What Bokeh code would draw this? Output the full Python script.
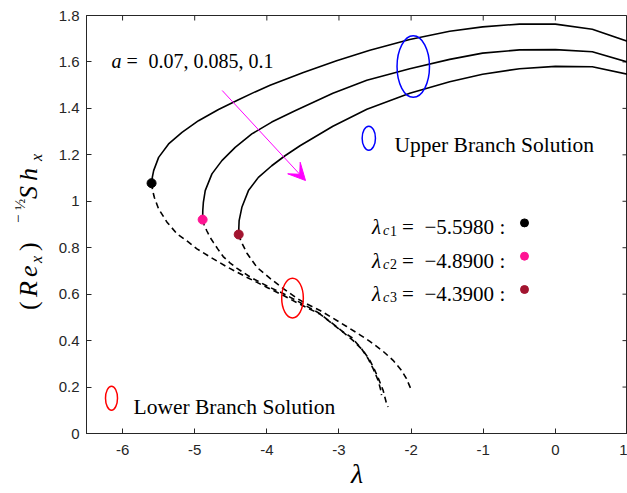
from bokeh.plotting import figure
from bokeh.models import Label, Arrow, VeeHead, FixedTicker, Range1d, Div
from bokeh.layouts import row
from bokeh.embed import file_html
from bokeh.resources import INLINE

# ---------------- data ----------------
a_labels = ["0.07", "0.085", "0.1"]
lambda_c = [-5.5980, -4.8900, -4.3900]
lambda_c_text = ["\u22125.5980", "\u22124.8900", "\u22124.3900"]
f_c = [1.078, 0.921, 0.857]
dot_colors = ["#000000", "#FF1493", "#A2142F"]

# upper branch (solid)
up1_x = [-5.598, -5.587, -5.569, -5.500, -5.362, -5.176, -4.947, -4.670, -4.393, -4.163,
         -3.955, -3.494, -3.033, -2.572, -2.019, -1.465, -1.009, -0.497, 0.0, 0.512, 1.0]
up1_y = [1.078, 1.104, 1.132, 1.189, 1.247, 1.297, 1.347, 1.395, 1.437, 1.471,
         1.500, 1.555, 1.605, 1.650, 1.697, 1.732, 1.751, 1.763, 1.763, 1.741, 1.689]
up2_x = [-4.890, -4.888, -4.880, -4.854, -4.761, -4.623, -4.439, -4.208, -3.932, -3.609,
         -3.084, -2.614, -2.019, -1.465, -1.009, -0.497, 0.0, 0.512, 1.0]
up2_y = [0.921, 0.960, 0.995, 1.046, 1.118, 1.175, 1.232, 1.290, 1.341, 1.390,
         1.465, 1.521, 1.571, 1.611, 1.638, 1.652, 1.653, 1.644, 1.600]
up3_x = [-4.390, -4.388, -4.384, -4.346, -4.255, -4.117, -3.932, -3.748, -3.540, -3.084,
         -2.613, -2.019, -1.465, -1.009, -0.497, 0.0, 0.512, 1.0]
up3_y = [0.857, 0.887, 0.917, 0.974, 1.046, 1.103, 1.153, 1.196, 1.239, 1.323,
         1.396, 1.465, 1.515, 1.547, 1.571, 1.581, 1.579, 1.547]

# lower branch (dashed)
lo1_x = [-5.598, -5.583, -5.559, -5.500, -5.384, -5.245, -5.107, -4.969, -4.785, -4.550,
         -4.273, -3.997, -3.775, -3.568, -3.263, -2.941, -2.803, -2.665, -2.572, -2.503,
         -2.443, -2.388, -2.341, -2.319]
lo1_y = [1.078, 1.046, 1.016, 0.967, 0.910, 0.860, 0.829, 0.795, 0.760, 0.717,
         0.672, 0.629, 0.595, 0.561, 0.514, 0.436, 0.400, 0.357, 0.315, 0.272,
         0.229, 0.186, 0.129, 0.114]
lo2_x = [-4.890, -4.868, -4.831, -4.785, -4.739, -4.681, -4.605, -4.508, -4.412, -4.232,
         -3.997, -3.775, -3.568, -3.263, -2.941, -2.825, -2.687, -2.595, -2.526, -2.457,
         -2.420, -2.410]
lo2_y = [0.921, 0.898, 0.872, 0.844, 0.822, 0.795, 0.762, 0.734, 0.711, 0.674,
         0.635, 0.603, 0.569, 0.516, 0.437, 0.414, 0.365, 0.322, 0.279, 0.229,
         0.186, 0.165]
lo3_x = [-4.390, -4.373, -4.342, -4.273, -4.135, -3.955, -3.775, -3.582, -3.471, -3.263,
         -3.079, -2.894, -2.710, -2.572, -2.388, -2.250, -2.133, -2.064, -2.005]
lo3_y = [0.857, 0.840, 0.818, 0.775, 0.715, 0.668, 0.625, 0.582, 0.562, 0.530,
         0.496, 0.461, 0.425, 0.397, 0.354, 0.315, 0.272, 0.236, 0.193]

x_ticks = [-6, -5, -4, -3, -2, -1, 0, 1]
x_tick_labels = ["-6", "-5", "-4", "-3", "-2", "-1", "0", "1"]
y_ticks = [0, 0.2, 0.4, 0.6, 0.8, 1.0, 1.2, 1.4, 1.6, 1.8]
y_tick_labels = ["0", "0.2", "0.4", "0.6", "0.8", "1", "1.2", "1.4", "1.6", "1.8"]

# ---------------- layout ----------------
XR = (-6.5, 1.0)
YR = (0.0, 1.8)
W, H = 627, 493
DIVW = 46                      # strip on the left holding the y-axis title
FL, FR, FT, FB = 86, 627, 15, 433   # frame edges in page pixels
AX = "#262626"
SERIF = "Liberation Serif"
SANS = "Liberation Sans"
TICK = 5


def dx(px):
    return XR[0] + (px - FL) / (FR - FL) * (XR[1] - XR[0])


def dy(py):
    return YR[0] + (FB - py) / (FB - FT) * (YR[1] - YR[0])


p = figure(width=W - DIVW, height=H, x_range=Range1d(*XR), y_range=Range1d(*YR),
           output_backend="svg", toolbar_location=None,
           min_border_left=FL - DIVW, min_border_right=0, min_border_top=FT,
           min_border_bottom=H - FB)
p.margin = 0
p.grid.visible = False
p.outline_line_color = AX
p.outline_line_width = 1
p.background_fill_color = "white"
p.border_fill_color = "white"

for ax, ticks, labels in ((p.xaxis[0], x_ticks, x_tick_labels), (p.yaxis[0], y_ticks, y_tick_labels)):
    ax.ticker = FixedTicker(ticks=ticks)
    ax.major_label_overrides = dict(zip(ticks, labels))
    ax.major_tick_in = TICK
    ax.major_tick_out = 0
    ax.minor_tick_line_color = None
    ax.axis_line_color = AX
    ax.major_tick_line_color = AX
    ax.major_label_text_color = AX
    ax.major_label_text_font = SANS
    ax.major_label_text_font_size = "15px"
p.xaxis.major_label_standoff = 11
p.yaxis.major_label_standoff = 7
p.xaxis.axis_label = "\u03bb"
p.xaxis.axis_label_text_font = SERIF
p.xaxis.axis_label_text_font_style = "italic"
p.xaxis.axis_label_text_font_size = "28px"
p.xaxis.axis_label_text_color = "black"
p.xaxis.axis_label_standoff = 0

# inward ticks on the top and right sides of the box
tx = TICK / (FR - FL) * (XR[1] - XR[0])
ty = TICK / (FB - FT) * (YR[1] - YR[0])
p.segment(x0=x_ticks, y0=[YR[1]] * len(x_ticks), x1=x_ticks, y1=[YR[1] - ty] * len(x_ticks),
          line_color=AX, line_width=1)
p.segment(x0=[XR[1]] * len(y_ticks), y0=y_ticks, x1=[XR[1] - tx] * len(y_ticks), y1=y_ticks,
          line_color=AX, line_width=1)

# curves
for xs, ys in ((up1_x, up1_y), (up2_x, up2_y), (up3_x, up3_y)):
    p.line(xs, ys, line_color="black", line_width=1.6)
for xs, ys in ((lo1_x, lo1_y), (lo2_x, lo2_y), (lo3_x, lo3_y)):
    p.line(xs, ys, line_color="black", line_width=1.6, line_dash="6 4")

p.scatter(lambda_c, f_c, size=9, fill_color=dot_colors, line_color=dot_colors)

# highlight ellipses
p.ellipse(x=[-1.97], y=[1.580], width=[0.45], height=[0.265],
          fill_color=None, line_color="#0000FF", line_width=1.5)
p.ellipse(x=[-3.644], y=[0.583], width=[0.30], height=[0.172],
          fill_color=None, line_color="#FF0000", line_width=1.5)
# legend-key ellipses
p.ellipse(x=[dx(368.3)], y=[dy(137.7)], width=[13.3 / (FR - FL) * 7.5], height=[24 / (FB - FT) * 1.8],
          fill_color=None, line_color="#0000FF", line_width=1.5)
p.ellipse(x=[dx(111)], y=[dy(397.7)], width=[12 / (FR - FL) * 7.5], height=[24 / (FB - FT) * 1.8],
          fill_color=None, line_color="#FF0000", line_width=1.5)

# arrow
p.add_layout(Arrow(end=VeeHead(size=17, fill_color="#FF00FF", line_color="#FF00FF"),
                   x_start=dx(221.7), y_start=dy(90), x_end=dx(305), y_end=dy(180),
                   line_color="#FF00FF", line_width=1))


def lab(px, py, text, size, style="normal", color="black", font=SERIF):
    p.add_layout(Label(x=dx(px), y=dy(py), text=text, text_font=font,
                       text_font_size=f"{size}px", text_font_style=style,
                       text_baseline="alphabetic", text_align="left", text_color=color))


# a = ...
lab(111, 60, "a", 20, "italic")
lab(126, 60, "=", 20)
lab(148, 60, ", ".join(a_labels), 20)

# branch legend texts
lab(394, 144, "Upper Branch Solution", 21.5)
lab(133, 406, "Lower Branch Solution", 21.5)

# lambda_c rows
row_base = [226.7, 260.0, 293.3]
for i in range(3):
    b = row_base[i]
    lab(371.5, b, "\u03bb", 21, "italic")
    lab(382.5, b + 3.5, "c", 14, "italic")
    lab(389.5, b + 3.5, str(i + 1), 14)
    lab(401.5, b, "=", 21)
    lab(424.0, b, lambda_c_text[i], 21)
    lab(499.0, b, ":", 21)
p.scatter([dx(524)] * 3, [dy(b - 4.3) for b in row_base], size=8,
          fill_color=dot_colors, line_color=dot_colors)


# y axis title: (Re_x)^(-1/2) Sh_x, rotated, as HTML text pieces
def piece(bx, sy, txt, size, italic):
    left = bx - 0.8375 * size
    style = ("position:absolute;left:%.1fpx;top:%.1fpx;transform:rotate(-90deg);"
             "transform-origin:0 0;white-space:nowrap;font-family:'Liberation Serif';"
             "font-size:%spx;line-height:1;font-style:%s;color:#000;margin:0;padding:0;"
             % (left, sy, size, "italic" if italic else "normal"))
    return '<span style="%s">%s</span>' % (style, txt)


pieces = [
    (38, 310, "(", 26, False),
    (38, 297, "R", 26, True),
    (38, 277, "e", 26, True),
    (42, 263, "x", 16, True),
    (38, 251, ")", 26, False),
    (24, 223, "&minus;", 15, False),
    (26, 210, "&frac12;", 15, False),
    (38, 199, "S", 26, True),
    (38, 181, "h", 26, True),
    (42, 161, "x", 16, True),
]
html = ('<div style="position:relative;width:%dpx;height:%dpx;margin:0;padding:0;">' % (DIVW, H)
        + "".join(piece(*pc) for pc in pieces) + "</div>")
div = Div(text=html, width=DIVW, height=H, margin=0)

layout = row(div, p, spacing=0, margin=0)
open("out.html", "w").write(file_html(layout, INLINE))
